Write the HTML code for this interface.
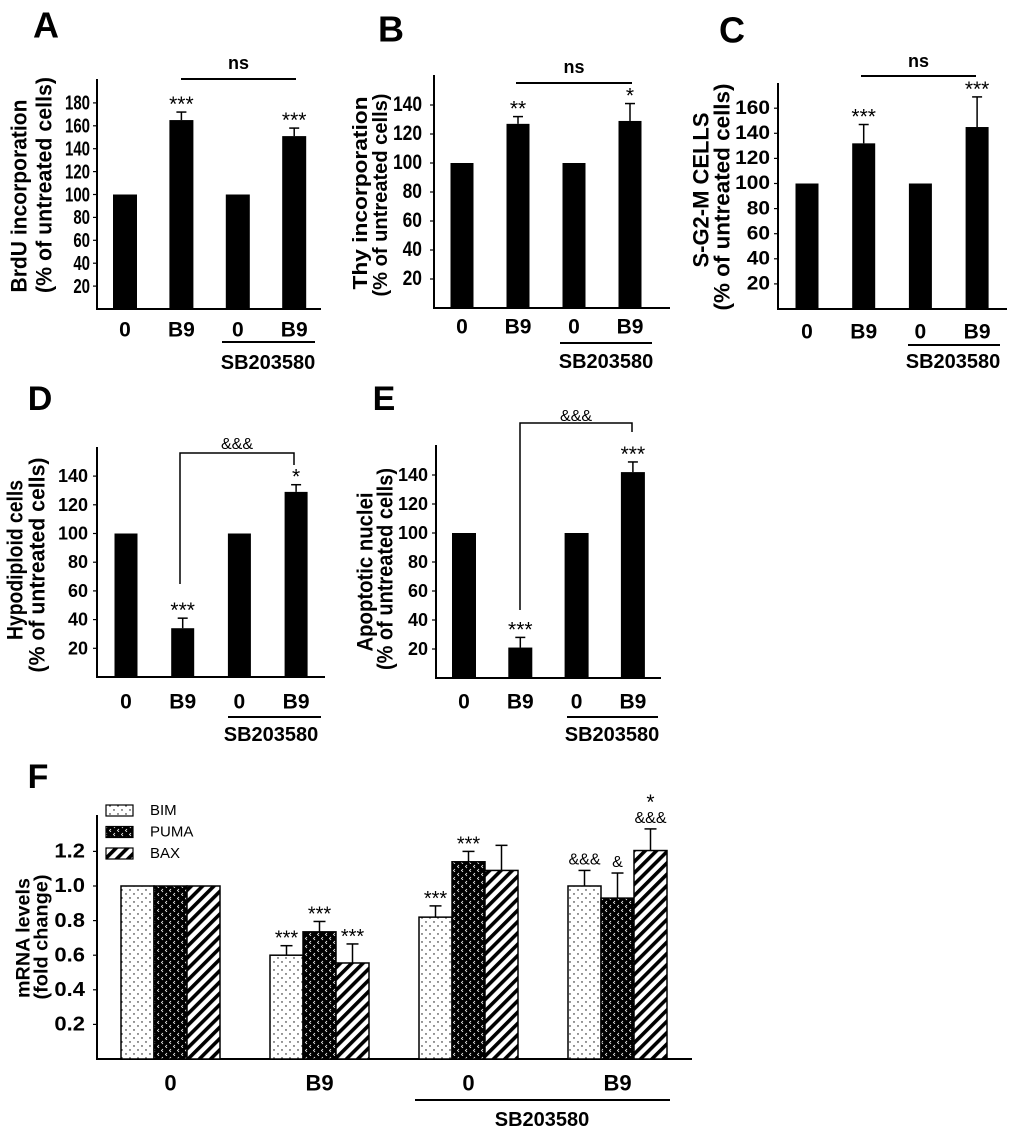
<!DOCTYPE html>
<html><head><meta charset="utf-8"><title>BrdU / apoptosis panels</title>
<style>
html,body{margin:0;padding:0;background:#fff;}
svg{display:block;font-family:"Liberation Sans",Arial,sans-serif;}
</style></head>
<body>
<svg id="fig" width="1024" height="1136" viewBox="0 0 1024 1136" xmlns="http://www.w3.org/2000/svg">
<defs>
<pattern id="pBIM" width="8" height="8" patternUnits="userSpaceOnUse">
<rect width="8" height="8" fill="#fff"/><circle cx="2" cy="2" r="0.7" fill="#000"/><circle cx="6" cy="6" r="0.7" fill="#000"/>
</pattern>
<pattern id="pPUMA" width="8" height="8" patternUnits="userSpaceOnUse">
<rect width="8" height="8" fill="#000"/><path d="M3 1 L1.5 2.5 L3 4 M7 5 L5.5 6.5 L7 8" stroke="#fff" stroke-width="0.8" fill="none"/>
</pattern>
<pattern id="pBAX" width="8" height="8" patternUnits="userSpaceOnUse" patternTransform="rotate(45)">
<rect width="8" height="8" fill="#fff"/><rect width="3.6" height="8" fill="#000"/>
</pattern>
</defs>
</svg>
<script>
// ---- Panel A data ----
const aCategories = ['0','B9','0','B9'];
const aValues = [100,165,100,151];
const aErrTop = [100,172,100,158];
const aStars = ['','***','','***'];
const aTicks = [20,40,60,80,100,120,140,160,180];
// ---- Panel B data ----
const bCategories = ['0','B9','0','B9'];
const bValues = [100,127,100,129];
const bErrTop = [100,132,100,141];
const bStars = ['','**','','*'];
const bTicks = [20,40,60,80,100,120,140];
// ---- Panel C data ----
const cCategories = ['0','B9','0','B9'];
const cValues = [100,132,100,145];
const cErrTop = [100,147,100,169];
const cStars = ['','***','','***'];
const cTicks = [20,40,60,80,100,120,140,160];
// ---- Panel D data ----
const dCategories = ['0','B9','0','B9'];
const dValues = [100,34,100,129];
const dErrTop = [100,41,100,134];
const dStars = ['','***','','*'];
const dTicks = [20,40,60,80,100,120,140];
// ---- Panel E data ----
const eCategories = ['0','B9','0','B9'];
const eValues = [100,21,100,142];
const eErrTop = [100,28,100,149];
const eStars = ['','***','','***'];
const eTicks = [20,40,60,80,100,120,140];
// ---- Panel F data ----
const fCategories = ['0','B9','0','B9'];
const fSeries = ['BIM','PUMA','BAX'];
const fBIM = [1.0,0.60,0.82,1.0];
const fPUMA = [1.0,0.735,1.14,0.93];
const fBAX = [1.0,0.555,1.09,1.205];
const fBIMErr = [1.0,0.655,0.885,1.09];
const fPUMAErr = [1.0,0.795,1.2,1.075];
const fBAXErr = [1.0,0.665,1.235,1.33];
const fBIMMarks = ['','***','***','&&&'];
const fPUMAMarks = ['','***','***','&'];
const fBAXMarks = ['','***','','&&&'];
const fBAXTopMarks = ['','','','*'];
const fTicks = ['0.2','0.4','0.6','0.8','1.0','1.2'];

const NS='http://www.w3.org/2000/svg';
const svg=document.getElementById('fig');
function mk(parent,tag,attrs,name){
  const el=document.createElementNS(NS,tag);
  for(const k in attrs) el.setAttribute(k,attrs[k]);
  
  
  parent.appendChild(el);
  return el;
}
function txt(parent,x,y,s,o,name){
  o=o||{};
  const a={'font-size':o.fs||16,'font-weight':o.bold?'bold':'normal','text-anchor':o.anchor||'middle','fill':'#000'};
  if(o.central) a['dominant-baseline']='central';
  if(o.rot){a.transform='translate('+x+','+y+') rotate(-90)';a.x=0;a.y=0;
    if(o.len){a.textLength=o.len;a.lengthAdjust='spacingAndGlyphs';}}
  else{a.transform='translate('+x+','+y+') scale('+(o.sx||1)+',1)';a.x=0;a.y=0;}
  const t=mk(parent,'text',a,name);
  t.textContent=s;
  return t;
}
function line(parent,x1,y1,x2,y2,w,name){
  return mk(parent,'line',{x1:x1,y1:y1,x2:x2,y2:y2,stroke:'#000','stroke-width':w||2},name);
}

function panel(P, cats, vals, errs, stars, ticks){
  const g=mk(svg,'g',{},P.id+'-panel');
  const yS=v=>P.base-v*P.pxPer;
  const xS=i=>P.c0+i*P.step;
  const yfs=P.ylFs||22;
  txt(g,P.letter[0],P.letter[1],P.id.toUpperCase(),{fs:P.letterFs||36,bold:true,central:true},'panel-label-'+P.id);
  line(g,P.ax,P.top,P.ax,P.base,2,'y-axis');
  line(g,P.ax-1,P.base,P.right,P.base,2,'x-axis');
  ticks.forEach(t=>{
    line(g,P.ax-4,yS(t),P.ax,yS(t),1.2,'y-tick');
    txt(g,P.tickR,yS(t),String(t),{fs:P.tickFs,bold:true,anchor:'end',central:true,sx:P.tickSx},'y-tick-label');
  });
  txt(g,P.yl1[0],P.yl1[1],P.ylab1,{fs:yfs,bold:true,rot:true,central:true,len:P.yl1[2]},'y-axis-title');
  txt(g,P.yl2[0],P.yl2[1],'(% of untreated cells)',{fs:yfs,bold:true,rot:true,central:true,len:P.yl2[2]},'y-axis-subtitle');
  cats.forEach((c,i)=>{
    const cx=xS(i), yt=yS(vals[i]);
    mk(g,'rect',{x:cx-P.bw/2,y:yt,width:P.bw,height:P.base-yt,fill:'#000'},'bar-'+P.id+'-'+i);
    if(errs[i]>vals[i]){
      const ye=yS(errs[i]);
      line(g,cx,yt,cx,ye,1.5,'error-bar');
      line(g,cx-5,ye,cx+5,ye,1.5,'error-cap');
      if(stars[i]) txt(g,cx,ye-1,stars[i],{fs:21},'significance-stars');
    }
    txt(g,cx,P.labY,c,{fs:21,bold:true,central:true},'x-tick-label');
  });
  line(g,P.sb[0],P.sb[2],P.sb[1],P.sb[2],2,'sb203580-bracket');
  txt(g,P.sb[3],P.sb[4],'SB203580',{fs:20,bold:true,central:true},'sb203580-label');
  if(P.ns){
    line(g,P.ns[0],P.ns[2],P.ns[1],P.ns[2],2,'ns-bracket');
    txt(g,(P.ns[0]+P.ns[1])/2,P.ns[3],'ns',{fs:18,bold:true,central:true},'ns-label');
  }
  if(P.br){
    const b=P.br;
    mk(g,'polyline',{points:b[0]+','+b[1]+' '+b[0]+','+b[2]+' '+b[3]+','+b[2]+' '+b[3]+','+b[4],fill:'none',stroke:'#000','stroke-width':1.5},'comparison-bracket');
    txt(g,(b[0]+b[3])/2,b[5],'&&&',{fs:16},'bracket-label');
  }
}

panel({id:'a',letter:[46,25],ax:97,top:79,base:309,right:321,pxPer:1.145,c0:125,step:56.4,bw:24,
  tickR:90,tickFs:20,tickSx:0.75,labY:330,ylab1:'BrdU incorporation',yl1:[19,196,193],yl2:[44,185,216],
  sb:[222,315,342,268,363],ns:[181,296,79,63]},aCategories,aValues,aErrTop,aStars,aTicks);
panel({id:'b',letter:[391,29],ax:434,top:75,base:308,right:670,pxPer:1.45,c0:462,step:56,bw:23,ylFs:20,
  tickR:422,tickFs:21,tickSx:0.83,labY:327,ylab1:'Thy incorporation',yl1:[361,193,193],yl2:[381,195,203],
  sb:[560,652,343,606,362],ns:[516,632,83,67]},bCategories,bValues,bErrTop,bStars,bTicks);
panel({id:'c',letter:[732,30],ax:778,top:83,base:309,right:1007,pxPer:1.255,c0:807,step:56.7,bw:23,
  tickR:770,tickFs:19,tickSx:1.1,labY:332,ylab1:'S-G2-M CELLS',yl1:[701,190,155],yl2:[722,197,227],
  sb:[908,1000,345,953,362],ns:[861,976,76,61]},cCategories,cValues,cErrTop,cStars,cTicks);
panel({id:'d',letter:[40,399],letterFs:34,ax:97,top:447,base:677,right:325,pxPer:1.435,c0:126,step:56.7,bw:23,
  tickR:88,tickFs:18,tickSx:1.0,labY:702,ylab1:'Hypodiploid cells',yl1:[15,560,160],yl2:[37,565,215],
  sb:[228,321,717,271,735],br:[180,584,453,294,465,449]},dCategories,dValues,dErrTop,dStars,dTicks);
panel({id:'e',letter:[384,399],letterFs:34,ax:436,top:445,base:678,right:661,pxPer:1.45,c0:464,step:56.3,bw:24,
  tickR:428,tickFs:18,tickSx:1.0,labY:702,ylab1:'Apoptotic nuclei',yl1:[365,572,159],yl2:[385,569,202],
  sb:[567,658,717,612,735],br:[520,610,423,632,432,421]},eCategories,eValues,eErrTop,eStars,eTicks);

// ---- Panel F ----
(function(){
  const g=mk(svg,'g',{},'f-panel');
  const base=1059, pxPer=173;
  const yS=v=>base-v*pxPer;
  const gx=i=>170.5+i*149;
  const bw=33;
  txt(g,38,777,'F',{fs:34,bold:true,central:true},'panel-label-f');
  line(g,97,815,97,base,2,'y-axis');
  line(g,96,base,692,base,2,'x-axis');
  fTicks.forEach(t=>{
    line(g,93,yS(parseFloat(t)),97,yS(parseFloat(t)),1.2,'y-tick');
    txt(g,85,yS(parseFloat(t)),t,{fs:20,bold:true,anchor:'end',central:true,sx:1.1},'y-tick-label');
  });
  txt(g,24,938,'mRNA levels',{fs:19,bold:true,rot:true,central:true,len:120},'y-axis-title');
  txt(g,42,937,'(fold change)',{fs:19,bold:true,rot:true,central:true,len:125},'y-axis-subtitle');
  const series=[[fBIM,fBIMErr,fBIMMarks,'url(#pBIM)'],[fPUMA,fPUMAErr,fPUMAMarks,'url(#pPUMA)'],[fBAX,fBAXErr,fBAXMarks,'url(#pBAX)']];
  fCategories.forEach((c,i)=>{
    series.forEach((s,k)=>{
      const cx=gx(i)+(k-1)*bw, yt=yS(s[0][i]);
      mk(g,'rect',{x:cx-bw/2,y:yt,width:bw,height:base-yt,fill:s[3],stroke:'#000','stroke-width':1.5},'bar-'+fSeries[k].toLowerCase()+'-'+i);
      if(s[1][i]>s[0][i]){
        const ye=yS(s[1][i]);
        line(g,cx,yt,cx,ye,1.5,'error-bar');
        line(g,cx-6,ye,cx+6,ye,1.5,'error-cap');
      }
      const m=s[2][i];
      if(m){
        if(m.indexOf('&')>=0) txt(g,cx,yS(s[1][i])-6,m,{fs:16},'significance-amp');
        else txt(g,cx,yS(s[1][i])-1,m,{fs:20},'significance-stars');
      }
    });
    const top=fBAXTopMarks[i];
    if(top) txt(g,gx(i)+bw,yS(fBAXErr[i])-20,top,{fs:21},'significance-stars-top');
    txt(g,gx(i),1083,c,{fs:22,bold:true,central:true},'x-tick-label');
  });
  line(g,415,1100,670,1100,2,'sb203580-bracket');
  txt(g,542,1120,'SB203580',{fs:20,bold:true,central:true},'sb203580-label');
  // legend
  const lg=mk(g,'g',{},'legend');
  const fills=['url(#pBIM)','url(#pPUMA)','url(#pBAX)'];
  fSeries.forEach((s,k)=>{
    const y=805+k*21.5;
    mk(lg,'rect',{x:106,y:y,width:27,height:11,fill:fills[k],stroke:'#000','stroke-width':1.2},'legend-swatch-'+s.toLowerCase());
    txt(lg,150,y+5.5,s,{fs:15,anchor:'start',central:true},'legend-entry-'+s.toLowerCase());
  });
})();
</script>
</body></html>
